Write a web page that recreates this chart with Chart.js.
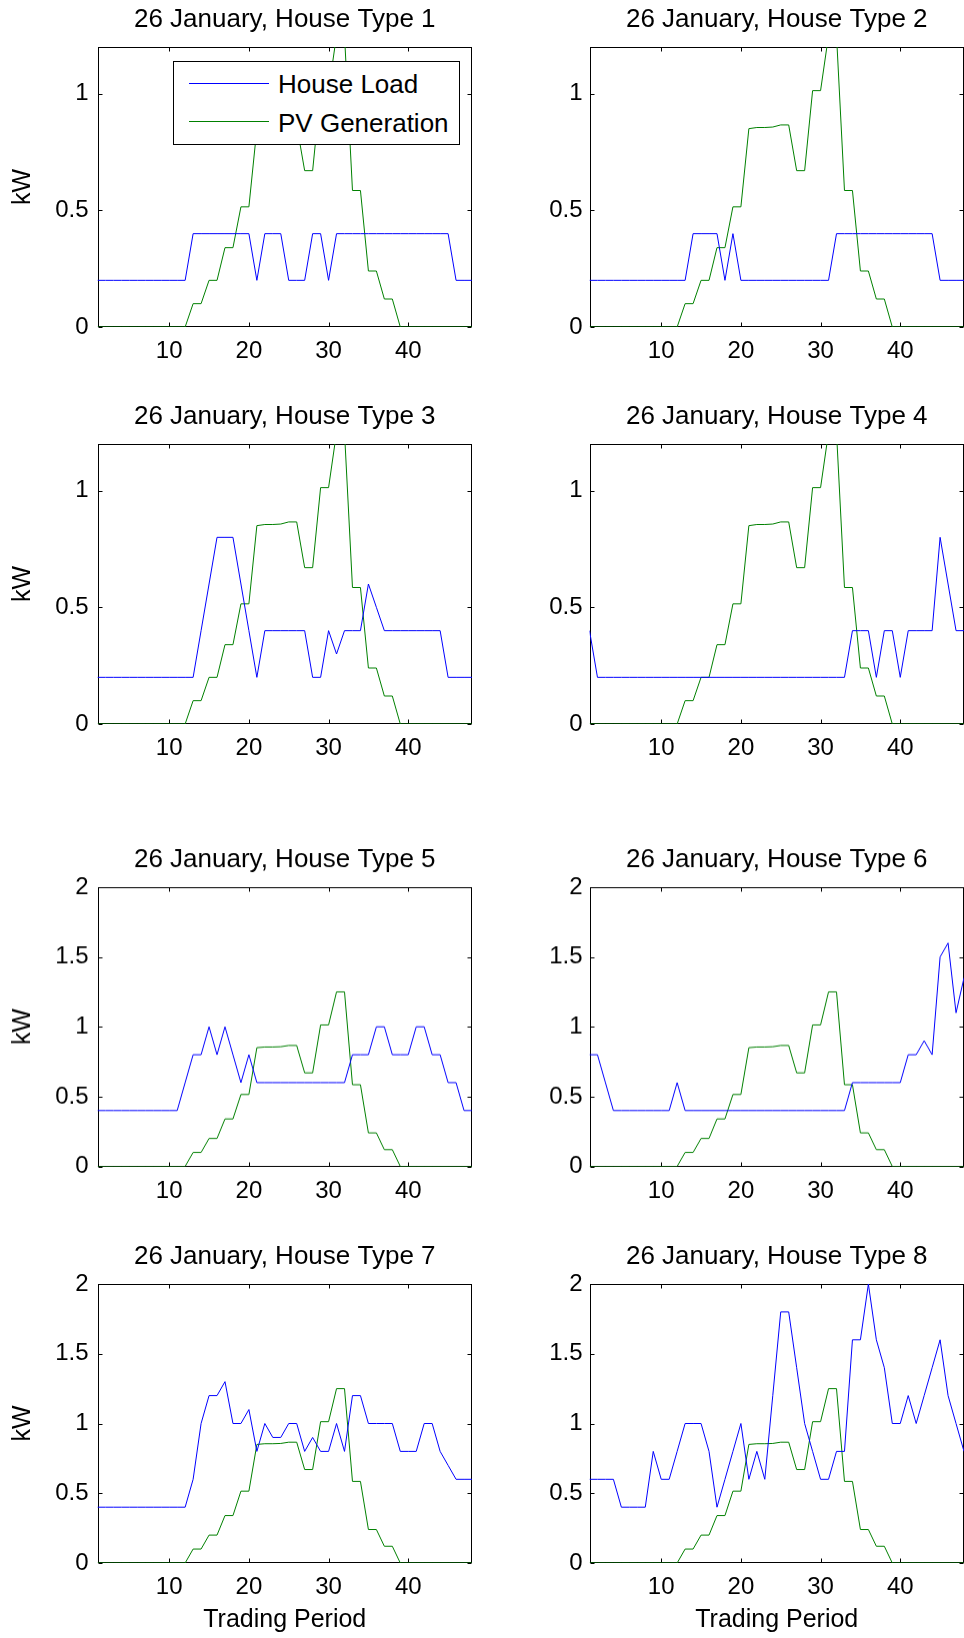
<!DOCTYPE html>
<html>
<head>
<meta charset="utf-8">
<script src="https://cdn.jsdelivr.net/npm/chart.js@4.4.1/dist/chart.umd.min.js"></script>
<style>
html,body{margin:0;padding:0;background:#fff;overflow:hidden;width:964px;height:1638px;position:relative;}
.panel{position:absolute;}
.legend{position:absolute;box-sizing:border-box;border:1px solid #000;background:#fff;z-index:5;
  font-family:"Liberation Sans",Arial,Helvetica,sans-serif;font-size:26px;color:#000;}
.legend .sample{position:absolute;height:0;border-top:1px solid;}
.legend .lbl{position:absolute;line-height:30px;white-space:nowrap;}
</style>
</head>
<body>
<script>
// ---------------- data ----------------
const periods = [1,2,3,4,5,6,7,8,9,10,11,12,13,14,15,16,17,18,19,20,21,22,23,24,
                 25,26,27,28,29,30,31,32,33,34,35,36,37,38,39,40,41,42,43,44,45,46,47,48];

const pvGeneration = [0,0,0,0,0,0,0,0,0,0,0,0,
  0.1,0.1,0.2,0.2,0.34,0.34,0.515,0.515,
  0.85,0.855,0.855,0.857,0.866,0.866,
  0.67,0.67,1.013,1.013,1.25,1.25,
  0.585,0.585,0.24,0.24,0.12,0.12,
  0,0,0,0,0,0,0,0,0,0];

const houseLoad1 = [0.2,0.2,0.2,0.2,0.2,0.2,0.2,0.2,0.2,0.2,0.2,0.2,
  0.4,0.4,0.4,0.4,0.4,0.4,0.4,0.4,0.2,0.4,0.4,0.4,0.2,0.2,0.2,0.4,0.4,0.2,
  0.4,0.4,0.4,0.4,0.4,0.4,0.4,0.4,0.4,0.4,0.4,0.4,0.4,0.4,0.4,0.2,0.2,0.2];

const houseLoad2 = [0.2,0.2,0.2,0.2,0.2,0.2,0.2,0.2,0.2,0.2,0.2,0.2,0.2,
  0.4,0.4,0.4,0.4,0.2,0.4,
  0.2,0.2,0.2,0.2,0.2,0.2,0.2,0.2,0.2,0.2,0.2,0.2,
  0.4,0.4,0.4,0.4,0.4,0.4,0.4,0.4,0.4,0.4,0.4,0.4,0.4,
  0.2,0.2,0.2,0.2];

const houseLoad3 = [0.2,0.2,0.2,0.2,0.2,0.2,0.2,0.2,0.2,0.2,0.2,0.2,0.2,
  0.4,0.6,0.8,0.8,0.8,0.6,0.4,0.2,
  0.4,0.4,0.4,0.4,0.4,0.4,0.2,0.2,0.4,0.3,0.4,0.4,0.4,0.6,0.5,
  0.4,0.4,0.4,0.4,0.4,0.4,0.4,0.4,0.2,0.2,0.2,0.2];

const houseLoad4 = [0.4,
  0.2,0.2,0.2,0.2,0.2,0.2,0.2,0.2,0.2,0.2,0.2,0.2,0.2,0.2,0.2,0.2,
  0.2,0.2,0.2,0.2,0.2,0.2,0.2,0.2,0.2,0.2,0.2,0.2,0.2,0.2,0.2,0.2,
  0.4,0.4,0.4,0.2,0.4,0.4,0.2,0.4,0.4,0.4,0.4,0.8,0.6,0.4,0.4];

const houseLoad5 = [0.4,0.4,0.4,0.4,0.4,0.4,0.4,0.4,0.4,0.4,0.4,
  0.6,0.8,0.8,1.0,0.8,1.0,0.8,0.6,0.8,
  0.6,0.6,0.6,0.6,0.6,0.6,0.6,0.6,0.6,0.6,0.6,0.6,
  0.8,0.8,0.8,1.0,1.0,0.8,0.8,0.8,1.0,1.0,0.8,0.8,0.6,0.6,0.4,0.4];

const houseLoad6 = [0.8,0.8,0.6,0.4,0.4,0.4,0.4,0.4,0.4,0.4,0.4,0.6,
  0.4,0.4,0.4,0.4,0.4,0.4,0.4,0.4,0.4,0.4,0.4,0.4,0.4,0.4,0.4,0.4,0.4,0.4,0.4,0.4,0.4,
  0.6,0.6,0.6,0.6,0.6,0.6,0.6,0.8,0.8,0.9,0.8,1.5,1.6,1.1,1.35];

const houseLoad7 = [0.4,0.4,0.4,0.4,0.4,0.4,0.4,0.4,0.4,0.4,0.4,0.4,
  0.6,1.0,1.2,1.2,1.3,1.0,1.0,1.1,0.8,1.0,0.9,0.9,1.0,1.0,0.8,0.9,0.8,0.8,1.0,0.8,1.2,1.2,
  1.0,1.0,1.0,1.0,0.8,0.8,0.8,1.0,1.0,0.8,0.7,0.6,0.6,0.6];

const houseLoad8 = [0.6,0.6,0.6,0.6,0.4,0.4,0.4,0.4,
  0.8,0.6,0.6,0.8,1.0,1.0,1.0,0.8,0.4,0.6,0.8,1.0,0.6,0.8,0.6,1.2,1.8,1.8,1.4,1.0,
  0.8,0.6,0.6,0.8,0.8,1.6,1.6,2.0,1.6,1.4,1.0,1.0,1.2,1.0,1.2,1.4,1.6,1.2,1.0,0.8];

const houseLoads = [houseLoad1,houseLoad2,houseLoad3,houseLoad4,houseLoad5,houseLoad6,houseLoad7,houseLoad8];
const panelTitles = ['26 January, House Type 1','26 January, House Type 2','26 January, House Type 3',
  '26 January, House Type 4','26 January, House Type 5','26 January, House Type 6',
  '26 January, House Type 7','26 January, House Type 8'];
const seriesNames = ['House Load','PV Generation'];
const seriesColors = ['#0000ff','#008000'];
const xTickValues = [10,20,30,40];
const yTicksSmall = [0,0.5,1];
const yTicksLarge = [0,0.5,1,1.5,2];
const yMaxSmall = 1.2, yMaxLarge = 2;
const xLabel = 'Trading Period';
const yLabel = 'kW';

// ---------------- layout ----------------
const FONT = '"Liberation Sans", Arial, Helvetica, sans-serif';
const ROW_PLOT_TOP = [46.7, 444.3, 887.2, 1284.3];
const ROW_PLOT_H = [280, 280, 278.5, 279];
const COL_LEFT = [0, 492];
const CANVAS_W = 481;
const TITLE_BLOCK = 47;
const Y_SCALE_W = 97.5;

const framePlugin = {
  id: 'frame',
  beforeDatasetsDraw(chart) {
    const {ctx, chartArea: a, scales} = chart;
    ctx.save();
    ctx.strokeStyle = '#000';
    ctx.lineWidth = 1;
    const L = Math.round(a.left) + 0.5, R = Math.round(a.right) - 0.5;
    const T = Math.round(a.top) + 0.5, B = Math.round(a.bottom) - 0.5;
    ctx.strokeRect(L, T, R - L, B - T);
    const tl = 4;
    ctx.beginPath();
    scales.x.ticks.forEach(t => {
      const px = Math.round(scales.x.getPixelForValue(t.value)) + 0.5;
      ctx.moveTo(px, B); ctx.lineTo(px, B - tl);
      ctx.moveTo(px, T); ctx.lineTo(px, T + tl);
    });
    scales.y.ticks.forEach(t => {
      const py = Math.round(scales.y.getPixelForValue(t.value)) + 0.5;
      ctx.moveTo(L, py); ctx.lineTo(L + tl, py);
      ctx.moveTo(R, py); ctx.lineTo(R - tl, py);
    });
    ctx.stroke();
    ctx.restore();
  }
};

const charts = [];
houseLoads.forEach((load, idx) => {
  const row = Math.floor(idx / 2), col = idx % 2;
  const bottomRow = row === 3;
  const xH = bottomRow ? 80 : 45;
  const h = TITLE_BLOCK + ROW_PLOT_H[row] + xH;
  const div = document.createElement('div');
  div.className = 'panel';
  div.style.left = COL_LEFT[col] + 'px';
  div.style.top = (ROW_PLOT_TOP[row] - TITLE_BLOCK) + 'px';
  div.style.width = CANVAS_W + 'px';
  div.style.height = h + 'px';
  const cv = document.createElement('canvas');
  div.appendChild(cv);
  document.body.appendChild(div);
  const small = row < 2;
  const yTicks = small ? yTicksSmall : yTicksLarge;
  const seriesData = [load, pvGeneration];
  charts.push(new Chart(cv, {
    type: 'line',
    data: {
      datasets: seriesData.map((vals, s) => ({
        label: seriesNames[s],
        data: periods.map((p, i) => ({x: p, y: vals[i]})),
        borderColor: seriesColors[s],
        backgroundColor: seriesColors[s],
        borderWidth: 1,
        pointRadius: 0,
        tension: 0,
        fill: false
      }))
    },
    options: {
      responsive: true,
      maintainAspectRatio: false,
      animation: false,
      devicePixelRatio: 1,
      events: [],
      layout: {padding: {left: 0, right: 9, top: 0, bottom: 0}},
      plugins: {
        legend: {display: false},
        tooltip: {enabled: false},
        title: {
          display: true, text: panelTitles[idx], color: '#000',
          fullSize: false,
          font: {family: FONT, size: 26, weight: 'normal', lineHeight: 1.15},
          padding: {top: 5, bottom: 12.1}
        }
      },
      scales: {
        x: {
          type: 'linear', min: 1, max: 48,
          afterBuildTicks: s => { s.ticks = xTickValues.map(v => ({value: v})); },
          afterFit: s => { s.height = xH; },
          grid: {display: false, drawTicks: false},
          border: {display: false},
          ticks: {color: '#000', font: {family: FONT, size: 24}, padding: 10, maxRotation: 0, autoSkip: false,
                  callback: v => String(v)},
          title: {display: bottomRow, text: xLabel, color: '#000',
                  font: {family: FONT, size: 25}, padding: {top: 0, bottom: 8}}
        },
        y: {
          type: 'linear', min: 0, max: small ? yMaxSmall : yMaxLarge,
          afterBuildTicks: s => { s.ticks = yTicks.map(v => ({value: v})); },
          afterFit: s => { s.width = Y_SCALE_W; },
          grid: {display: false, drawTicks: false},
          border: {display: false},
          ticks: {color: '#000', font: {family: FONT, size: 24}, padding: col === 0 ? 9 : 7,
                  callback: v => String(v)},
          title: {display: col === 0, text: yLabel, color: '#000',
                  font: {family: FONT, size: 25}, padding: {top: 8, bottom: 0}}
        }
      }
    },
    plugins: [framePlugin]
  }));
});

// HTML legend for first panel, built from the dataset labels/colours
(function () {
  const leg = document.createElement('div');
  leg.className = 'legend';
  leg.style.left = '173px'; leg.style.top = '61px';
  leg.style.width = '287px'; leg.style.height = '84px';
  const lineY = [21, 59];
  const textTop = [7, 46];
  charts[0].data.datasets.forEach((ds, i) => {
    const sm = document.createElement('div');
    sm.className = 'sample';
    sm.style.left = '15px'; sm.style.width = '80px'; sm.style.top = lineY[i] + 'px';
    sm.style.borderTopColor = ds.borderColor;
    leg.appendChild(sm);
    const lb = document.createElement('div');
    lb.className = 'lbl';
    lb.style.left = '104px'; lb.style.top = textTop[i] + 'px';
    lb.textContent = ds.label;
    leg.appendChild(lb);
  });
  document.body.appendChild(leg);
})();
</script>
</body>
</html>
